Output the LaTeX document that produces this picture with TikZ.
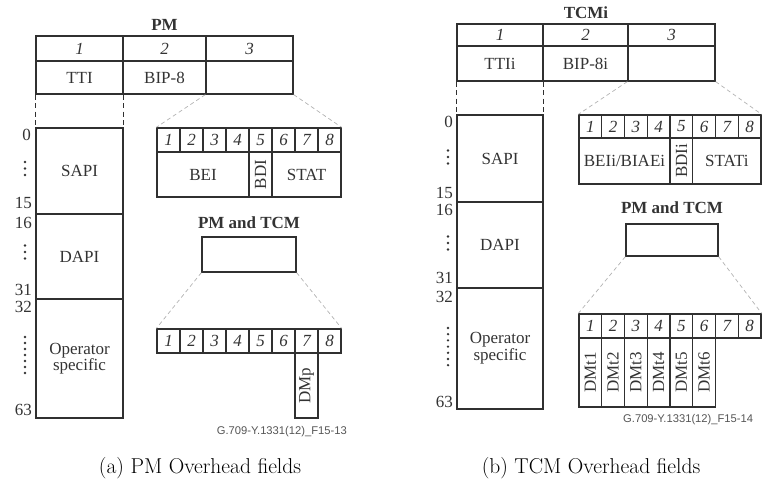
\documentclass[tikz,border=0pt]{standalone}
\usepackage{fontspec}
\usepackage{graphicx}
\newfontfamily\tms{Liberation Serif}
\newfontfamily\lsans{Liberation Sans}
\definecolor{linec}{HTML}{303030}
\definecolor{textc}{HTML}{333333}
\definecolor{tagc}{HTML}{555555}
\begin{document}
\begin{tikzpicture}[x=1pt,y=-1pt,
  cell/.style={rectangle, draw=linec, line width=1.3pt, inner sep=0pt,
    text=textc, font=\tms\fontsize{17}{19}\selectfont},
  num/.style={cell, font=\tms\itshape\fontsize{17}{19}\selectfont},
  ttl/.style={inner sep=0pt, text=textc, font=\tms\bfseries\fontsize{17}{19}\selectfont},
  idx/.style={inner sep=0pt, anchor=east, text=textc, font=\tms\fontsize{17}{19}\selectfont},
  tag/.style={inner sep=0pt, text=tagc, font=\lsans\fontsize{11.2}{13}\selectfont},
  subcap/.style={inner sep=0pt, text=black, font=\fontsize{21.5}{24}\selectfont},
  gdash/.style={draw=gray!60, line width=0.7pt, dash pattern=on 4pt off 3pt},
  vdash/.style={draw=linec, line width=1.3pt, dash pattern=on 5pt off 3.5pt},
  dot/.style={fill=textc}
]
\useasboundingbox (0,0) rectangle (766,494);

% ================= PM overhead =================
\node[ttl] (pmT) at (164.5,25) {PM};
\node[num, minimum width=87pt, minimum height=25pt] (ph1) at (79.5,48.5) {1};
\node[num, minimum width=83pt, minimum height=25pt] (ph2) at (164.5,48.5) {2};
\node[num, minimum width=87pt, minimum height=25pt] (ph3) at (249.5,48.5) {3};
\node[cell, minimum width=87pt, minimum height=33pt] (pr1) at (79.5,77.5) {TTI};
\node[cell, minimum width=83pt, minimum height=33pt] (pr2) at (164.5,77.5) {BIP-8};
\node[cell, minimum width=87pt, minimum height=33pt] (pr3) at (249.5,77.5) {};

\node[cell, minimum width=87pt, minimum height=86pt] (psapi) at (79.5,171) {SAPI};
\node[cell, minimum width=87pt, minimum height=85pt] (pdapi) at (79.5,256.5) {DAPI};
\node[cell, minimum width=87pt, minimum height=119pt, align=center] (pop) at (79.5,358.5)
  {Operator\\[-3pt]specific};
\draw[vdash] (pr1.south west) -- (psapi.north west);
\draw[vdash] (pr1.south east) -- (psapi.north east);

% byte indices of the trail trace identifier
\node[idx] (pi0) at (31,135) {0};
\node[idx] (pi15) at (32,203) {15};
\node[idx] (pi16) at (32,223) {16};
\node[idx] (pi31) at (32,290) {31};
\node[idx] (pi32) at (32,307) {32};
\node[idx] (pi63) at (32,410) {63};
\foreach \y in {162,168.5,175} \fill[dot] (25,\y) circle (1.3pt);
\foreach \y in {245.5,252,258.5} \fill[dot] (25,\y) circle (1.3pt);
\foreach \k in {0,...,6} \fill[dot] (25,{337+6*\k}) circle (1.3pt);

% byte 3 of PM
\foreach \i in {1,...,8}
  \node[num, minimum width=23pt, minimum height=24pt] (pb\i) at ({157+23*(\i-0.5)},140) {\i};
\node[cell, minimum width=92pt, minimum height=45pt] (pbei) at (203,174.5) {BEI};
\node[cell, minimum width=23pt, minimum height=45pt] (pbdi) at (260.5,174.5) {\rotatebox{90}{BDI}};
\node[cell, minimum width=69pt, minimum height=45pt] (pstat) at (306.5,174.5) {STAT};
\draw[gdash] (pr3.south west) -- (pb1.north west);
\draw[gdash] (pr3.south east) -- (pb8.north east);

% PM and TCM byte
\node[ttl] (pmtT) at (249,223) {PM and TCM};
\node[cell, minimum width=94pt, minimum height=35pt] (pmt) at (249,254.5) {};
\foreach \i in {1,...,8}
  \node[num, minimum width=23pt, minimum height=24pt] (pd\i) at ({157+23*(\i-0.5)},341) {\i};
\node[cell, minimum width=23pt, minimum height=65pt] (pdmp) at (306.5,385.5) {\rotatebox{90}{DMp}};
\draw[gdash] (pmt.south west) -- (pd1.north west);
\draw[gdash] (pmt.south east) -- (pd8.north east);

\node[tag, anchor=east] (ptag) at (347,432) {G.709-Y.1331(12)\_F15-13};
\node[subcap] (capa) at (200,468) {(a) PM Overhead fields};

% ================= TCM overhead =================
\node[ttl] (tcT) at (586,13) {TCMi};
\node[num, minimum width=86pt, minimum height=22pt] (th1) at (500,35) {1};
\node[num, minimum width=85pt, minimum height=22pt] (th2) at (585.5,35) {2};
\node[num, minimum width=87pt, minimum height=22pt] (th3) at (671.5,35) {3};
\node[cell, minimum width=86pt, minimum height=35pt] (tr1) at (500,63.5) {TTIi};
\node[cell, minimum width=85pt, minimum height=35pt] (tr2) at (585.5,63.5) {BIP-8i};
\node[cell, minimum width=87pt, minimum height=35pt] (tr3) at (671.5,63.5) {};

\node[cell, minimum width=86pt, minimum height=87pt] (tsapi) at (500,158.5) {SAPI};
\node[cell, minimum width=86pt, minimum height=86pt] (tdapi) at (500,245) {DAPI};
\node[cell, minimum width=86pt, minimum height=121pt, align=center] (top) at (500,348.5)
  {\raisebox{4pt}{\shortstack{Operator\\[-1pt]specific}}};
\draw[vdash] (tr1.south west) -- (tsapi.north west);
\draw[vdash] (tr1.south east) -- (tsapi.north east);

\node[idx] (ti0) at (453,122) {0};
\node[idx] (ti15) at (453,193) {15};
\node[idx] (ti16) at (453,210) {16};
\node[idx] (ti31) at (453,278) {31};
\node[idx] (ti32) at (453,297) {32};
\node[idx] (ti63) at (453,402) {63};
\foreach \y in {150.5,157,163.5} \fill[dot] (448,\y) circle (1.3pt);
\foreach \y in {236.5,243,249.5} \fill[dot] (448,\y) circle (1.3pt);
\foreach \k in {0,...,6} \fill[dot] (448,{328+6.2*\k}) circle (1.3pt);

% byte 3 of TCMi
\foreach \i in {1,...,8}
  \node[num, minimum width=22.75pt, minimum height=23pt] (tb\i) at ({579+22.75*(\i-0.5)},126.5) {\i};
\node[cell, minimum width=91pt, minimum height=46pt] (tbei) at (624.5,161) {BEIi/BIAEi};
\node[cell, minimum width=22.75pt, minimum height=46pt] (tbdi) at (681.4,161) {\rotatebox{90}{BDIi}};
\node[cell, minimum width=68.25pt, minimum height=46pt] (tstat) at (726.9,161) {STATi};
\draw[gdash] (tr3.south west) -- (tb1.north west);
\draw[gdash] (tr3.south east) -- (tb8.north east);

% PM and TCM byte
\node[ttl] (tmtT) at (672,208) {PM and TCM};
\node[cell, minimum width=92pt, minimum height=32pt] (tmt) at (672,240) {};
\foreach \i in {1,...,8}
  \node[num, minimum width=22.75pt, minimum height=24pt] (td\i) at ({579+22.75*(\i-0.5)},326) {\i};
\foreach \i in {1,...,6}
  \node[cell, minimum width=22.75pt, minimum height=69pt] (tdm\i) at ({579+22.75*(\i-0.5)},372.5)
    {\rotatebox{90}{DMt\i}};
\draw[gdash] (tmt.south west) -- (td1.north west);
\draw[gdash] (tmt.south east) -- (td8.north east);

\node[tag, anchor=west] (ttag) at (623,420) {G.709-Y.1331(12)\_F15-14};
\node[subcap] (capb) at (591,468) {(b) TCM Overhead fields};
\end{tikzpicture}
\end{document}
